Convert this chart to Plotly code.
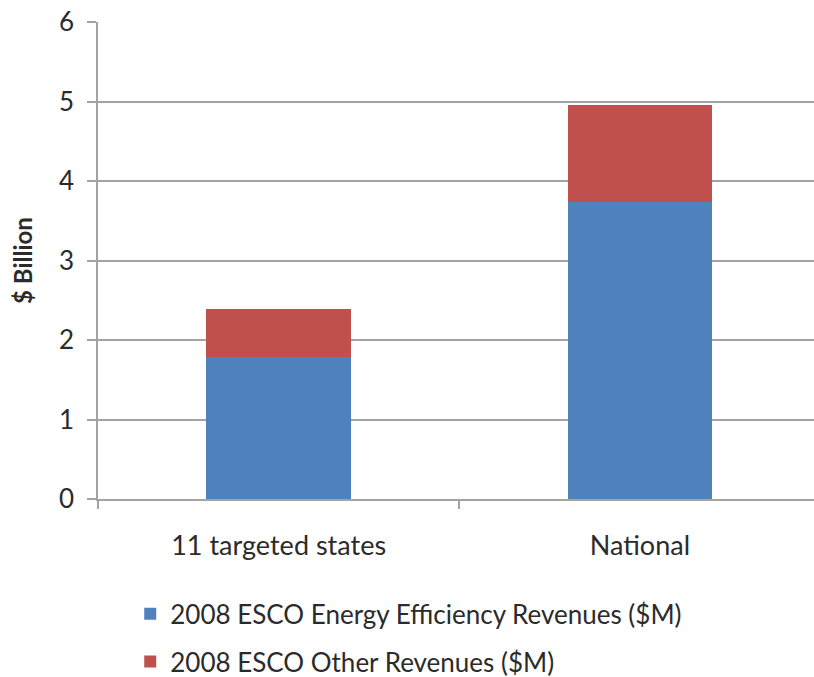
import plotly.graph_objects as go

categories = ["11 targeted states", "National"]
efficiency_revenues = [1.78, 3.73]
other_revenues = [0.61, 1.22]
series_names = [
    "2008 ESCO Energy Efficiency Revenues ($M)",
    "2008 ESCO Other Revenues ($M)",
]
y_ticks = [0, 1, 2, 3, 4, 5, 6]

FONT = "Lato, Noto Sans, sans-serif"
GRID = "#a3a3a3"
TEXT = "#2b2b2b"

fig = go.Figure()
fig.add_trace(go.Bar(
    x=categories, y=efficiency_revenues, name=series_names[0],
    marker=dict(color="#4f81bd", line=dict(width=0)), legendgroup="a",
))
fig.add_trace(go.Bar(
    x=categories, y=other_revenues, name=series_names[1],
    marker=dict(color="#c0504d", line=dict(width=0)), legendgroup="b",
))

fig.update_layout(
    width=814, height=677,
    barmode="stack", bargap=0.6,
    paper_bgcolor="white", plot_bgcolor="white",
    margin=dict(l=98, r=0, t=22, b=178),
    font=dict(family=FONT, size=26, color=TEXT),
    xaxis=dict(
        type="category", range=[-0.5, 1.482],
        showline=True, linecolor=GRID, linewidth=1.5,
        ticks="outside", tickson="boundaries", ticklen=8, tickcolor=GRID, tickwidth=1.5,
        showgrid=False, tickfont=dict(size=27), ticklabelstandoff=22,
    ),
    yaxis=dict(
        range=[0, 6], tickvals=y_ticks,
        showgrid=True, gridcolor=GRID, gridwidth=1.5,
        showline=True, linecolor=GRID, linewidth=1.5,
        ticks="outside", ticklen=9, tickcolor=GRID, tickwidth=1.5,
        zeroline=False, tickfont=dict(size=26), ticklabelstandoff=8,
        title=dict(text="<b>$ Billion</b>", font=dict(size=24), standoff=20),
    ),
    legend=dict(
        orientation="v", traceorder="grouped",
        xref="paper", x=0.045, xanchor="left",
        yref="container", y=0.128, yanchor="top",
        font=dict(size=26), tracegroupgap=11,
        itemwidth=30,
    ),
    showlegend=True,
)

fig.write_html("out.html")
